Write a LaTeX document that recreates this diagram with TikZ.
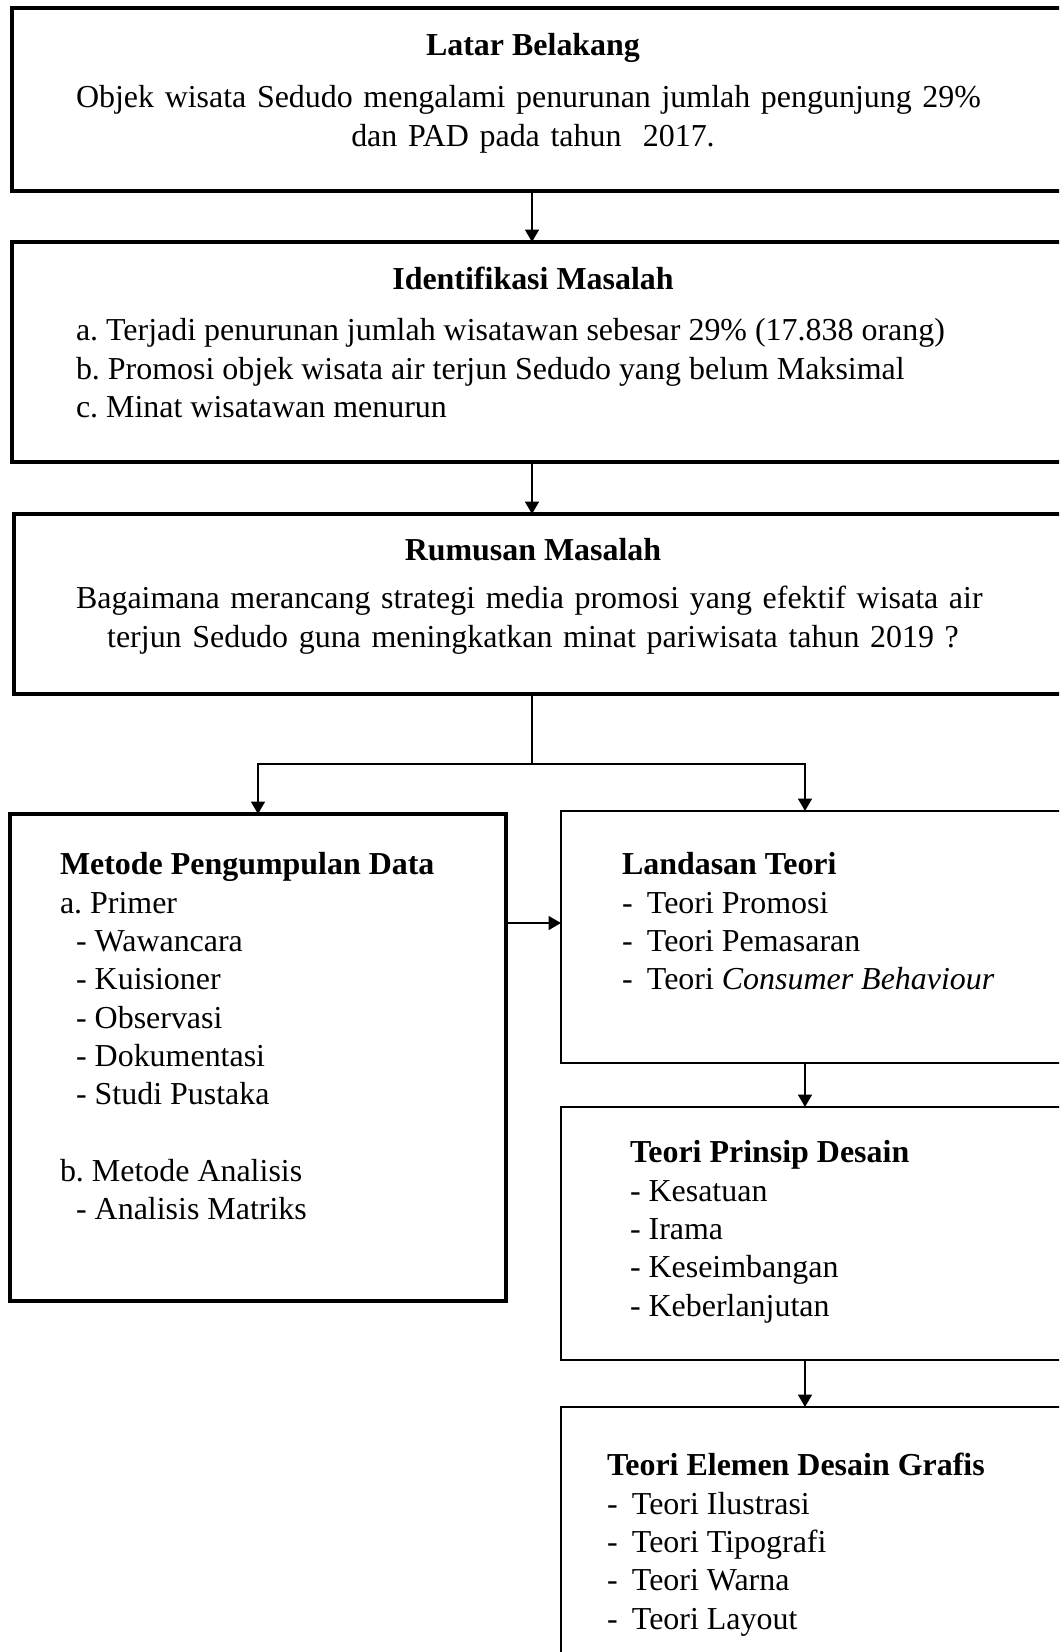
\documentclass[tikz,border=0pt]{standalone}
\usepackage{fontspec}
\setmainfont{Liberation Serif}
\usepackage{tikz}
\usetikzlibrary{arrows.meta,positioning,calc}

\frenchspacing
\newcommand{\itemdash}{\makebox[9pt][l]{-}}

\begin{document}
\begin{tikzpicture}[x=0.36pt, y=-0.36pt,
    every node/.style={font=\fontsize{11.5}{13.8}\selectfont, inner sep=0pt, outer sep=0pt},
    box/.style={draw, line width=1.1pt, anchor=north west},
    thinbox/.style={box, line width=0.85pt},
    title/.style={anchor=base, font=\fontsize{11.5}{13.8}\selectfont\bfseries},
    txt/.style={anchor=north west, align=left},
    arr/.style={-{Triangle[length=4.5pt,width=5pt]}, line width=0.75pt}]
  \useasboundingbox (0,0) rectangle (1059,1652);
  \clip (0,0) rectangle (1059,1652);
  \coordinate (cmid) at (532,0);
  \coordinate (cright) at (805,0);
  \coordinate (csplit) at (532,764);
  \coordinate (cmeet) at (0,923);

  % boxes
  \node[box, line width=1.3pt, minimum width=1070*0.36pt, minimum height=183*0.36pt] (latar) at (12,8) {};
  \node[box, minimum width=1070*0.36pt, minimum height=220*0.36pt] (ident) at (12,242) {};
  \node[box, minimum width=1068*0.36pt, minimum height=180*0.36pt] (rumusan) at (14,514) {};
  \node[box, minimum width=496*0.36pt, minimum height=487*0.36pt] (metode) at (10,814) {};
  \node[thinbox, minimum width=520*0.36pt, minimum height=252*0.36pt] (landasan) at (561,811) {};
  \node[thinbox, minimum width=520*0.36pt, minimum height=253*0.36pt] (prinsip) at (561,1107) {};
  \node[thinbox, minimum width=520*0.36pt, minimum height=300*0.36pt] (elemen) at (561,1407) {};

  % texts
  \node[title] (tlatar) at (533,55) {Latar Belakang};
  \node[anchor=north, text width=329pt, align=center] (blatar) at (533,81)
    {\strut\makebox[329pt][s]{Objek wisata Sedudo mengalami penurunan jumlah pengunjung 29\%}\\
     dan PAD pada tahun~ 2017.};
  \node[title] (tident) at (533,289) {Identifikasi Masalah};
  \node[txt] (bident) at (76,314)
    {\strut a. Terjadi penurunan jumlah wisatawan sebesar 29\% (17.838 orang)\\
     b. Promosi objek wisata air terjun Sedudo yang belum Maksimal\\
     c. Minat wisatawan menurun};
  \node[title] (trumusan) at (533,560) {Rumusan Masalah};
  \node[anchor=north, text width=329pt, align=center] (brumusan) at (533,582)
    {\strut\makebox[329pt][s]{Bagaimana merancang strategi media promosi yang efektif wisata air}\\
     terjun Sedudo guna meningkatkan minat pariwisata tahun 2019 ?};
  \node[txt] (bmetode) at (60,848)
    {\strut\textbf{Metode Pengumpulan Data}\\
     a. Primer\\
     \hspace*{5.8pt}- Wawancara\\
     \hspace*{5.8pt}- Kuisioner\\
     \hspace*{5.8pt}- Observasi\\
     \hspace*{5.8pt}- Dokumentasi\\
     \hspace*{5.8pt}- Studi Pustaka\\[13.8pt]
     b. Metode Analisis\\
     \hspace*{5.8pt}- Analisis Matriks};
  \node[txt] (blandasan) at (622,848)
    {\strut\textbf{Landasan Teori}\\
     \itemdash Teori Promosi\\
     \itemdash Teori Pemasaran\\
     \itemdash Teori \textit{Consumer Behaviour}};
  \node[txt] (bprinsip) at (630,1136)
    {\strut\textbf{Teori Prinsip Desain}\\
     - Kesatuan\\
     - Irama\\
     - Keseimbangan\\
     - Keberlanjutan};
  \node[txt] (belemen) at (607,1449)
    {\strut\textbf{Teori Elemen Desain Grafis}\\
     \itemdash Teori Ilustrasi\\
     \itemdash Teori Tipografi\\
     \itemdash Teori Warna\\
     \itemdash Teori Layout};

  % connectors
  \draw[arr] (latar.south -| cmid) -- (ident.north -| cmid);
  \draw[arr] (ident.south -| cmid) -- (rumusan.north -| cmid);
  \draw[line width=0.75pt] (rumusan.south -| cmid) -- (csplit);
  \draw[arr] (csplit) -| (metode.north);
  \draw[arr] (csplit) -| (landasan.north -| cright);
  \draw[arr] (metode.east |- cmeet) -- (landasan.west |- cmeet);
  \draw[arr] (landasan.south -| cright) -- (prinsip.north -| cright);
  \draw[arr] (prinsip.south -| cright) -- (elemen.north -| cright);
\end{tikzpicture}
\end{document}
